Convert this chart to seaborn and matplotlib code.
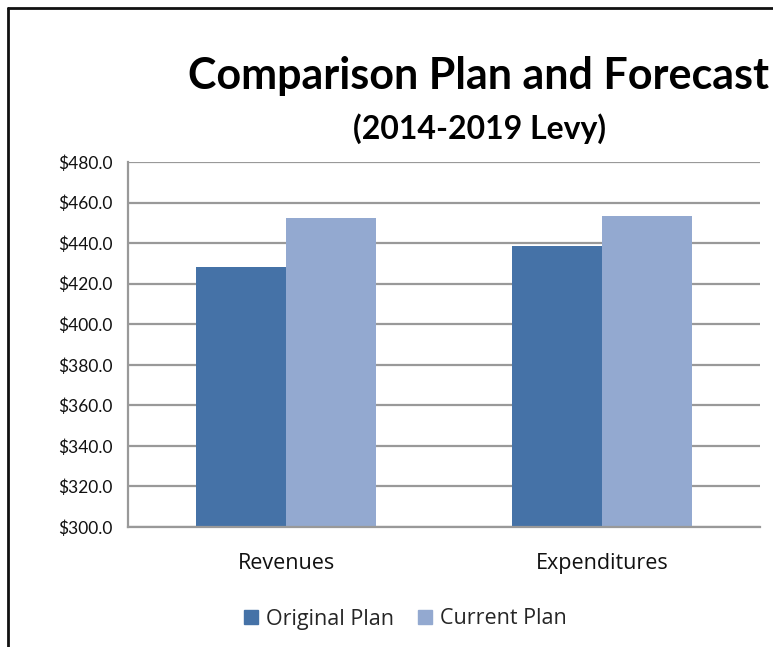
import matplotlib
matplotlib.use("Agg")
import matplotlib.pyplot as plt
import seaborn as sns
import pandas as pd
from matplotlib.lines import Line2D
from matplotlib.ticker import FuncFormatter

categories = ["Revenues", "Expenditures"]
series = ["Original Plan", "Current Plan"]
original_plan = [428.0, 438.5]
current_plan = [452.5, 453.5]
colors = ["#4572A7", "#93A9D0"]

df = pd.DataFrame({
    "category": categories * 2,
    "series": [series[0]] * 2 + [series[1]] * 2,
    "value": original_plan + current_plan,
})

sns.set_style("white")
plt.rcParams["font.family"] = ["Lato", "DejaVu Sans"]

fig = plt.figure(figsize=(7.73, 6.47), dpi=100)
ax = fig.add_axes([128 / 773, 1 - 527 / 647, (760 - 128) / 773, (527 - 162) / 647])

sns.barplot(data=df, x="category", y="value", hue="series", palette=colors,
            width=0.57, gap=0, ax=ax, legend=False, saturation=1,
            edgecolor="none", linewidth=0)

ax.set_ylim(300, 480)
ax.set_xlim(-0.5, 1.5)
ax.set_yticks(range(300, 481, 20))
ax.yaxis.set_major_formatter(FuncFormatter(lambda v, p: f"${v:.1f}"))
ax.grid(axis="y", color="#999999", linewidth=1.6)
ax.set_axisbelow(True)
for s in ["top", "right"]:
    ax.spines[s].set_visible(False)
ax.spines["left"].set_color("#999999")
ax.spines["left"].set_linewidth(1.6)
ax.spines["bottom"].set_color("#999999")
ax.spines["bottom"].set_linewidth(1.6)
ax.set_xlabel("")
ax.set_ylabel("")
ax.tick_params(axis="y", labelsize=12.5, length=0, pad=11, colors="#111111")
ax.tick_params(axis="x", length=0, pad=19, colors="#111111")
for lbl in ax.get_xticklabels():
    lbl.set_fontfamily(["Open Sans", "DejaVu Sans"])
    lbl.set_fontsize(15.5)

fig.text(188 / 773, 1 - 89 / 647, "Comparison Plan and Forecast", ha="left",
         va="baseline", fontsize=31, fontweight="bold", color="#000000")
fig.text(480 / 773, 1 - 139 / 647, "(2014-2019 Levy)", ha="center",
         va="baseline", fontsize=23, fontweight="bold", color="#000000")

handles = [Line2D([], [], marker="s", linestyle="none", markersize=10,
                  markerfacecolor=c, markeredgecolor=c) for c in colors]
fig.legend(handles, series, loc="center", bbox_to_anchor=(404 / 773, 1 - 619 / 647),
           ncol=2, frameon=False, prop={"family": ["Open Sans", "DejaVu Sans"], "size": 15.5},
           handletextpad=0.25, columnspacing=1.0, handlelength=0.9)

# figure border (left and top edges visible)
fig.add_artist(Line2D([8 / 773, 8 / 773], [0, 1 - 8 / 647], transform=fig.transFigure,
                      color="#111111", linewidth=2))
fig.add_artist(Line2D([8 / 773, 1], [1 - 8 / 647, 1 - 8 / 647], transform=fig.transFigure,
                      color="#111111", linewidth=2))

fig.savefig("out.png", dpi=100)
